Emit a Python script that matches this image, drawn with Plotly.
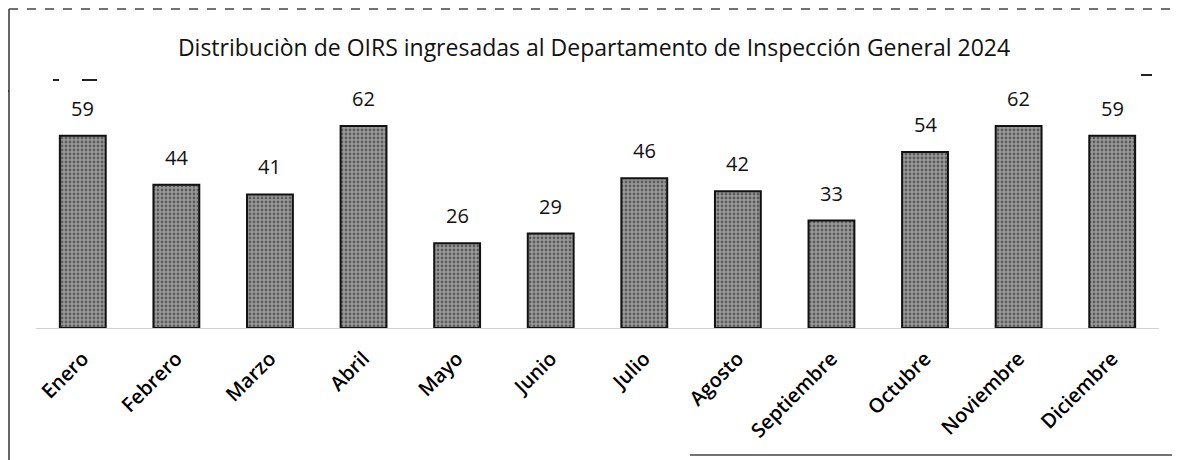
import plotly.graph_objects as go

months = ["Enero", "Febrero", "Marzo", "Abril", "Mayo", "Junio", "Julio",
          "Agosto", "Septiembre", "Octubre", "Noviembre", "Diciembre"]
values = [59, 44, 41, 62, 26, 29, 46, 42, 33, 54, 62, 59]
title_text = "Distribuciòn de OIRS ingresadas al Departamento de Inspección General 2024"

FONT = "Open Sans"
OFF = 8  # default page body margin
W, H = 1180 - OFF, 460 - OFF
L, R, T, B = 36 - OFF, 21, 100 - OFF, 132
PW, PH = W - L - R, H - T - B

fig = go.Figure()
fig.add_trace(go.Bar(
    x=months, y=values,
    marker=dict(
        color="#7a7a7a",
        line=dict(color="#111111", width=2),
        pattern=dict(shape=".", fgcolor="#1e1e1e", bgcolor="#9a9a9a", size=4, solidity=0.4),
    ),
    width=0.49,
    hoverinfo="skip",
))

for m, v in zip(months, values):
    fig.add_annotation(x=m, y=v, text=str(v), showarrow=False, yanchor="bottom",
                       yshift=12, font=dict(family=FONT, size=20, color="#111111"))

fig.update_layout(
    width=W, height=H,
    margin=dict(l=L, r=R, t=T, b=B, autoexpand=False),
    paper_bgcolor="white", plot_bgcolor="white",
    showlegend=False,
    title=dict(text=title_text, x=(594 - OFF) / W, xanchor="center", y=1 - (48 - OFF) / H,
               yanchor="middle", font=dict(family=FONT, size=23, color="#111111")),
    xaxis=dict(tickangle=-45, tickfont=dict(family=FONT, size=20, color="#000000", weight=600),
               automargin=False, ticklabelstandoff=10,
               showline=True, linecolor="#d0d0d0", linewidth=1, ticks="",
               showgrid=False, zeroline=False),
    yaxis=dict(range=[0, 70], visible=False, showgrid=False, zeroline=False, automargin=False),
)

def px_x(x):
    return (x - OFF - L) / PW

def px_y(y):
    return (H - B - (y - OFF)) / PH

def seg(x0, y0, x1, y1, color="#333333", width=1.5, dash=None):
    fig.add_shape(type="line", xref="paper", yref="paper",
                  x0=px_x(x0), x1=px_x(x1), y0=px_y(y0), y1=px_y(y1),
                  line=dict(color=color, width=width, dash=dash))

# scan frame lines
seg(9, 460, 9, 9)
seg(9, 9, 1180, 9, color="#444444", dash="dash")
seg(690, 455, 1180, 455, color="#444444")
seg(53, 80, 59, 80, color="#222222", width=2)
seg(82, 80, 97, 80, color="#222222", width=2)
seg(1141, 75, 1152, 75, color="#222222", width=2)
seg(1, 91, 9, 91, color="#222222", width=1.5)

fig.write_html("out.html")
